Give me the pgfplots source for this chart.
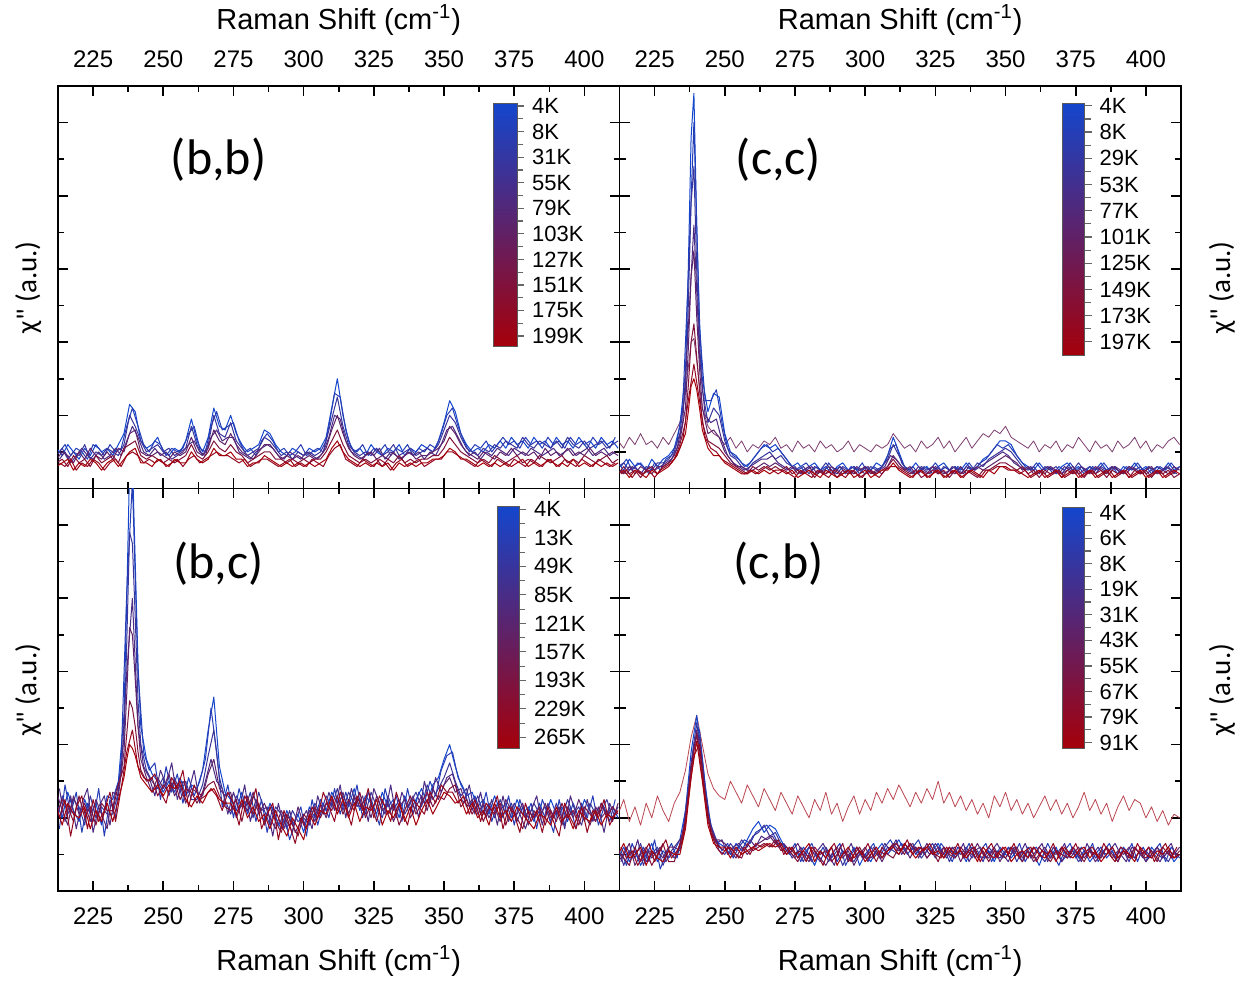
\documentclass[border=0pt]{standalone}
\usepackage{fontspec}
\setmainfont{Liberation Sans}
\newfontfamily\cali{Carlito}
\usepackage{pgfplots}
\usepackage{pgfplotstable}
\pgfplotsset{compat=1.18}
\usepgfplotslibrary{groupplots}
\usetikzlibrary{calc}
\definecolor{cA}{RGB}{20,70,205}
\definecolor{cE}{RGB}{165,0,10}
\colorlet{cP}{cA!88!cE}
\colorlet{cB}{cA!75!cE}
\colorlet{cQ}{cA!62!cE}
\colorlet{cC}{cA!50!cE}
\colorlet{cD}{cA!25!cE}
\colorlet{cR}{cA!12!cE}
\definecolor{cF}{RGB}{125,60,110}
\definecolor{cG}{RGB}{185,70,80}

\pgfplotstableread{
x a b c d e
212 11 9 8 7 6
214 9 11 10 8 7
216 12 8 9 6 8
218 10 10 7 9 5
220 8 9 10 7 7
222 11 12 8 8 6
224 9 8 11 6 8
226 12 10 9 9 7
228 10 9 8 7 5
230 11 11 10 8 7
232 9 10 8 9 8
234 12 9 11 7 6
236 15 12 10 11 8
238 23 20 15 12 10
240 21 17 16 13 11
242 13 13 10 9 7
244 11 10 9 8 7
246 12 11 9 9 6
248 14 12 10 8 8
250 10 10 9 7 7
252 9 11 8 8 6
254 11 9 10 7 8
256 10 10 9 8 7
258 13 11 10 9 7
260 19 17 14 12 10
262 13 12 10 9 8
264 10 9 9 8 7
266 14 12 11 10 8
268 22 20 16 13 11
270 17 15 13 11 9
272 16 14 12 10 9
274 20 18 15 12 10
276 15 13 12 10 8
278 12 11 10 9 8
280 10 9 9 7 6
282 11 10 8 8 7
284 12 11 10 9 7
286 16 14 12 10 9
288 15 13 12 10 8
290 12 11 10 8 7
292 10 9 8 8 6
294 9 10 9 7 7
296 11 8 8 8 6
298 10 10 9 7 7
300 9 9 8 8 6
302 11 10 9 7 7
304 10 9 8 8 6
306 11 10 9 8 7
308 14 13 11 10 8
310 22 19 16 13 11
312 30 25 20 16 13
314 20 17 15 12 10
316 13 12 11 9 8
318 10 10 9 8 7
320 11 9 8 7 6
322 9 10 9 8 7
324 12 9 10 7 6
326 10 11 8 8 7
328 9 9 9 6 6
330 11 10 8 8 7
332 10 12 10 7 5
334 12 9 8 9 7
336 9 10 9 7 6
338 11 11 10 8 7
340 10 9 8 7 6
342 12 10 9 8 7
344 11 11 9 8 7
346 10 10 10 9 8
348 13 12 11 9 8
350 18 16 13 11 9
352 24 20 17 14 11
354 21 18 15 12 10
356 15 14 12 10 8
358 12 11 10 9 8
360 10 10 9 8 7
362 11 9 8 7 6
364 10 11 10 8 7
366 12 10 9 7 6
368 11 12 8 9 7
370 13 11 10 8 6
372 11 13 9 7 7
374 14 12 11 8 6
376 12 11 9 9 7
378 13 14 10 7 8
380 11 12 9 8 6
382 14 11 10 7 7
384 12 13 8 9 6
386 13 12 11 8 7
388 11 11 9 7 8
390 14 13 10 8 6
392 12 11 9 9 7
394 13 14 11 7 6
396 11 12 9 8 8
398 14 11 10 7 6
400 12 13 9 9 7
402 13 11 11 8 6
404 11 12 9 7 7
406 14 13 10 8 6
408 12 11 9 9 7
410 13 12 10 7 6
412 11 13 9 8 7
}\tblTL

\pgfplotstableread{
x p q r
213 10 8 7
215 12 10 6
217 9 7 8
219 11 9 5
221 10 11 7
223 8 9 6
225 12 8 8
227 11 10 7
229 9 8 5
231 12 9 7
233 10 11 8
235 11 9 6
237 17 13 9
239 22 17 10
241 17 14 9
243 12 10 7
245 10 9 8
247 13 11 7
249 12 9 8
251 9 10 6
253 11 8 7
255 10 9 8
257 11 10 6
259 15 12 8
261 17 13 9
263 11 10 7
265 10 9 8
267 17 14 9
269 21 16 10
271 16 13 9
273 17 14 9
275 18 14 8
277 13 10 7
279 10 9 8
281 11 8 6
283 9 10 7
285 13 11 8
287 15 12 8
289 13 11 7
291 10 9 6
293 11 8 7
295 9 10 8
297 10 9 6
299 12 8 7
301 9 10 6
303 10 9 8
305 11 8 7
307 10 10 6
309 17 14 9
311 26 20 11
313 25 19 12
315 16 13 8
317 11 10 7
319 10 9 6
321 12 8 8
323 9 10 7
325 11 9 6
327 10 11 8
329 12 8 7
331 9 10 5
333 11 9 7
335 10 8 8
337 12 10 6
339 9 9 7
341 11 10 8
343 10 8 6
345 12 10 7
347 11 9 8
349 15 12 8
351 20 16 10
353 22 17 10
355 17 14 9
357 13 11 8
359 10 9 7
361 12 10 6
363 11 8 8
365 13 10 7
367 10 9 6
369 12 11 8
371 14 10 7
373 12 9 6
375 13 11 8
377 11 10 7
379 14 9 6
381 12 11 8
383 13 10 7
385 11 9 6
387 14 10 8
389 12 11 7
391 13 9 6
393 11 10 8
395 14 11 7
397 12 9 6
399 13 10 8
401 11 11 7
403 14 9 6
405 12 10 8
407 13 11 7
409 11 9 6
411 14 10 7
}\tblTLb

\pgfplotstableread{
x a b c d e f
212 7 6 5 4 4 13
214 5 7 4 6 5 11
216 8 5 6 4 3 14
218 6 6 4 5 5 12
220 7 4 6 3 4 15
222 5 6 5 5 3 12
224 8 5 4 6 5 13
226 6 7 6 4 4 11
228 8 7 6 6 5 14
230 9 8 7 7 6 12
232 11 10 9 8 8 15
234 17 15 13 12 11 18
236 32 27 22 18 15 26
237 60 50 38 28 21 33
238 96 78 58 40 28 40
239 108 88 65 45 30 41
240 72 60 47 36 27 35
241 46 40 33 27 22 28
242 30 27 22 18 16 22
244 21 18 15 13 11 17
246 26 22 16 12 9 15
248 25 20 14 11 9 14
250 15 13 10 9 7 12
252 10 9 8 7 6 14
254 9 8 6 6 5 11
256 7 6 6 5 4 13
258 6 5 5 4 4 10
260 8 7 5 6 5 12
262 10 8 6 5 4 11
264 12 9 7 6 5 13
266 11 10 6 5 4 12
268 12 8 7 6 5 14
270 10 9 6 5 5 11
272 8 7 5 6 4 12
274 6 6 6 4 5 10
276 7 5 4 5 3 13
278 5 6 5 4 4 11
280 6 4 6 5 5 12
282 7 6 4 3 4 10
284 5 5 5 5 3 13
286 6 7 4 4 5 11
288 4 5 6 5 4 12
290 6 4 5 3 3 10
292 7 6 4 5 4 11
294 5 5 5 4 5 13
296 6 6 4 5 3 10
298 4 5 5 3 4 12
300 6 4 6 4 5 11
302 5 6 4 5 3 10
304 7 5 5 4 4 12
306 6 6 4 5 5 11
308 9 8 6 6 5 12
310 14 12 9 8 7 15
312 10 9 7 6 5 13
314 6 6 5 5 4 11
316 5 5 6 4 3 12
318 7 4 4 5 4 10
320 5 6 5 3 5 13
322 6 5 4 4 3 11
324 4 6 6 5 4 12
326 6 4 5 4 5 14
328 7 6 4 5 3 11
330 5 5 5 3 4 13
332 6 6 4 5 5 10
334 5 4 6 4 3 12
336 7 6 4 5 4 14
338 5 5 5 4 5 11
340 6 7 6 3 4 13
342 8 6 5 5 3 15
344 9 8 6 5 5 14
346 11 9 7 6 4 16
348 13 10 8 7 6 15
350 13 11 9 7 6 17
352 12 10 8 6 5 14
354 9 8 7 5 5 13
356 7 6 5 6 4 12
358 6 5 6 4 3 11
360 5 6 4 5 4 13
362 7 4 5 3 5 10
364 5 6 4 5 3 12
366 6 5 6 4 4 11
368 4 6 5 5 5 13
370 6 4 4 3 3 10
372 7 6 5 5 4 12
374 5 5 6 4 5 11
376 6 7 4 5 3 14
378 4 5 5 3 4 12
380 6 6 4 5 5 10
382 5 4 6 4 3 13
384 7 6 5 5 4 11
386 5 5 4 3 5 12
388 6 6 6 5 3 10
390 4 5 5 4 4 13
392 6 4 4 5 5 11
394 5 6 6 3 3 12
396 7 5 5 5 4 14
398 5 6 4 4 5 11
400 6 4 5 5 3 13
402 4 5 6 3 4 10
404 6 6 4 5 5 12
406 5 5 5 4 3 11
408 7 6 4 5 4 13
410 5 4 6 3 5 14
412 6 6 5 4 4 12
}\tblTR

\pgfplotstableread{
x p q r
213 6 5 4
215 8 4 5
217 5 6 3
219 7 5 5
221 6 4 4
223 4 6 5
225 7 5 3
227 5 6 5
229 8 7 6
231 9 8 7
233 13 11 9
235 22 18 13
237 58 44 24
239 100 72 34
241 44 36 24
243 24 20 14
245 24 18 11
247 27 19 10
249 18 13 8
251 11 9 7
253 9 7 6
255 8 6 5
257 6 5 4
259 7 6 5
261 9 7 4
263 11 8 5
265 12 8 6
267 10 9 5
269 11 7 4
271 9 6 5
273 7 5 4
275 5 6 3
277 6 4 5
279 7 5 4
281 5 6 3
283 6 4 5
285 4 5 4
287 7 6 3
289 5 4 5
291 6 6 4
293 4 5 3
295 6 4 5
297 5 6 4
299 7 5 3
301 4 6 5
303 6 4 4
305 5 5 3
307 7 6 5
309 11 9 6
311 12 8 6
313 7 6 5
315 5 5 4
317 6 4 3
319 4 6 5
321 6 5 4
323 5 4 3
325 7 6 5
327 5 5 4
329 6 4 3
331 4 6 5
333 6 5 4
335 5 4 3
337 7 6 5
339 5 5 4
341 7 6 3
343 8 7 5
345 10 8 5
347 12 9 6
349 11 10 6
351 12 9 5
353 10 7 5
355 8 6 4
357 6 5 5
359 5 6 3
361 7 4 4
363 5 5 5
365 6 6 3
367 4 5 4
369 6 4 5
371 5 6 3
373 7 5 4
375 5 4 5
377 6 6 3
379 4 5 4
381 6 4 5
383 5 6 3
385 7 5 4
387 5 4 5
389 6 6 3
391 4 5 4
393 6 4 5
395 5 6 3
397 7 5 4
399 5 4 5
401 6 6 3
403 4 5 4
405 6 4 5
407 5 6 3
409 7 5 4
411 5 4 5
}\tblTRb

\pgfplotstableread{
x a b c d e
212 24 19 27 21 23
214 20 26 22 25 18
216 27 21 18 23 24
218 22 25 26 19 21
220 19 23 21 26 20
222 25 18 24 20 23
224 21 26 19 23 17
226 24 20 25 18 22
228 18 23 21 24 19
230 26 21 17 22 24
232 25 21 27 22 19
234 30 27 26 29 25
236 48 42 38 34 31
237 80 68 54 43 36
238 116 98 72 52 40
239 118 95 70 50 39
240 90 75 58 45 37
241 62 52 45 38 34
242 45 40 36 33 31
244 36 33 31 30 29
246 32 30 27 31 27
248 30 28 31 26 29
250 27 31 28 29 26
252 30 26 32 27 29
254 27 31 26 30 28
256 31 27 29 25 30
258 26 30 24 28 25
260 29 25 28 27 23
262 28 25 27 24 26
264 33 29 26 27 24
266 44 37 32 29 27
268 53 44 36 30 28
270 34 31 28 26 25
272 27 25 26 23 24
274 25 21 27 22 24
276 22 26 20 25 21
278 27 23 24 19 25
280 21 25 22 26 20
282 26 20 27 21 23
284 23 27 21 24 19
286 19 22 24 18 21
288 24 18 20 23 17
290 20 23 17 19 22
292 17 21 22 16 18
294 22 17 19 21 15
296 18 22 16 18 20
298 21 19 23 15 17
300 16 20 18 21 14
302 23 18 22 19 21
304 20 24 19 23 18
306 25 21 24 20 22
308 22 26 20 24 21
310 27 23 25 22 26
312 24 28 22 26 21
314 26 22 27 21 25
316 23 27 21 25 20
318 28 24 26 22 24
320 22 25 23 27 19
322 26 21 25 20 23
324 24 27 20 24 22
326 21 23 26 19 25
328 27 20 22 25 18
330 23 26 24 21 22
332 25 22 19 24 20
334 20 25 23 18 24
336 26 21 25 22 19
338 22 24 20 26 23
340 25 27 23 21 18
342 28 23 26 24 22
344 24 29 22 27 25
346 29 25 28 23 21
348 31 28 25 26 24
350 36 31 29 25 27
352 40 35 31 28 26
354 34 30 27 29 24
356 29 26 28 23 25
358 26 28 23 25 21
360 27 22 25 21 24
362 23 26 21 24 20
364 25 21 24 19 22
366 21 24 20 23 18
368 26 20 23 21 24
370 22 25 19 24 20
372 24 21 25 18 22
374 20 24 22 23 19
376 25 19 21 20 23
378 21 23 24 17 21
380 23 20 18 22 19
382 19 24 22 20 17
384 24 21 19 23 21
386 20 23 24 18 20
388 25 19 20 22 18
390 21 24 22 19 23
392 23 20 18 24 19
394 19 25 23 20 21
396 24 21 20 22 17
398 20 23 25 18 22
400 25 19 21 23 20
402 22 24 18 21 19
404 19 21 23 19 22
406 24 22 20 24 18
408 21 25 22 20 21
410 23 20 19 23 20
412 20 23 24 21 22
}\tblBL

\pgfplotstableread{
x p q r
213 17 28 20
215 29 19 25
217 21 26 15
219 27 17 23
221 16 24 26
223 24 28 17
225 19 16 25
227 28 23 19
229 15 26 22
231 25 18 27
233 20 27 19
235 36 32 28
237 82 60 38
239 112 80 44
241 60 45 34
243 38 34 31
245 33 31 30
247 35 26 32
249 25 33 27
251 34 29 24
253 27 35 31
255 32 25 28
257 24 30 33
259 31 27 23
261 26 33 29
263 30 24 25
265 36 30 26
267 50 36 28
269 38 30 26
271 23 28 22
273 29 21 27
275 20 27 24
277 28 22 18
279 22 29 26
281 27 19 23
283 19 25 28
285 25 22 17
287 16 23 21
289 23 15 24
291 18 24 14
293 21 17 22
295 14 22 18
297 19 16 13
299 23 19 20
301 15 22 17
303 25 17 23
305 18 26 20
307 24 21 27
309 20 27 23
311 28 22 19
313 21 29 27
315 27 20 23
317 22 28 18
319 29 23 26
321 20 26 22
323 27 19 28
325 23 28 20
327 18 24 26
329 28 21 23
331 22 29 19
333 26 20 27
335 19 27 22
337 28 23 18
339 21 26 25
341 27 20 23
343 24 30 21
345 30 24 27
347 26 31 24
349 33 27 29
351 37 31 27
353 38 32 27
355 31 27 24
357 28 24 26
359 23 29 21
361 26 21 25
363 21 27 19
365 27 20 24
367 19 25 22
369 24 18 26
371 20 26 17
373 26 19 23
375 18 24 21
377 25 21 16
379 20 17 24
381 24 22 19
383 17 26 22
385 25 18 16
387 21 24 23
389 16 20 19
391 25 23 15
393 18 17 24
395 23 26 20
397 17 21 17
399 24 18 23
401 20 25 16
403 26 19 22
405 18 23 20
407 23 16 25
409 19 24 18
411 25 20 21
}\tblBLb

\pgfplotstableread{
x a b c d e f
212 9 12 8 11 10 21
214 12 7 10 9 13 25
216 8 11 13 7 9 19
218 11 9 7 12 10 23
220 7 13 10 8 12 18
222 10 8 12 11 7 24
224 13 10 9 7 11 20
226 8 12 11 10 9 26
228 11 7 9 13 8 22
230 9 11 12 8 11 19
232 11 9 12 8 10 24
234 14 12 11 13 10 27
236 22 20 18 19 17 33
238 38 35 33 34 31 42
240 48 46 44 43 41 48
242 36 34 33 31 30 40
244 22 20 21 19 18 32
246 15 16 14 15 13 28
248 13 11 14 12 12 26
250 12 10 13 11 12 25
252 10 13 11 12 9 30
254 13 11 9 10 12 27
256 11 14 12 9 10 24
258 14 12 10 13 11 29
260 17 15 12 11 12 26
262 19 16 13 12 11 23
264 16 18 14 13 12 28
266 18 15 15 12 13 25
268 17 16 13 14 12 22
270 14 13 12 11 13 27
272 11 12 10 12 10 24
274 12 9 11 10 12 21
276 9 11 13 8 9 26
278 12 8 10 11 11 23
280 10 12 8 9 13 20
282 7 10 11 12 8 25
284 11 8 9 10 11 22
286 9 12 7 11 9 27
288 12 9 10 8 12 21
290 8 11 12 10 7 24
292 11 7 9 13 10 19
294 9 10 11 8 12 23
296 12 8 7 10 9 26
298 7 11 10 12 11 21
300 10 9 12 9 8 25
302 8 12 9 11 10 22
304 11 10 11 8 12 27
306 13 9 8 12 9 24
308 10 12 11 10 11 28
310 12 11 13 9 12 25
312 14 10 11 12 10 29
314 11 13 12 10 13 26
316 13 11 9 13 11 23
318 10 12 12 11 9 27
320 12 9 10 12 11 24
322 9 11 13 9 12 28
324 11 13 10 11 10 25
326 13 10 12 8 11 30
328 10 12 9 12 9 24
330 12 8 11 10 12 27
332 9 11 12 9 10 23
334 11 10 8 12 11 26
336 8 12 11 10 9 22
338 12 9 10 13 11 25
340 10 11 13 9 8 21
342 9 8 10 11 12 24
344 11 12 9 8 10 20
346 8 10 12 11 9 26
348 12 9 8 10 11 23
350 10 11 11 9 12 27
352 9 12 10 12 8 22
354 11 8 12 10 10 25
356 8 11 9 8 11 21
358 12 9 11 11 9 24
360 10 12 8 9 12 20
362 7 10 10 12 10 23
364 11 8 12 10 9 26
366 9 11 9 8 11 22
368 12 10 11 11 8 25
370 8 12 8 10 12 21
372 10 9 11 9 10 24
374 12 11 10 12 9 20
376 9 8 12 10 11 23
378 11 10 9 8 12 27
380 8 12 11 11 9 22
382 10 9 8 10 11 25
384 12 11 10 9 8 21
386 9 10 12 12 10 24
388 11 12 9 10 12 19
390 8 9 11 8 9 23
392 12 11 10 11 11 26
394 10 8 12 9 10 22
396 9 12 9 12 8 25
398 11 10 11 10 12 24
400 8 11 8 9 10 20
402 12 9 10 11 9 23
404 10 12 12 8 11 19
406 9 10 9 12 10 22
408 11 8 11 10 12 18
410 8 11 10 9 9 21
412 10 9 12 11 10 20
}\tblBR

\pgfplotstableread{
x p q r
213 11 8 12
215 7 12 9
217 13 9 11
219 9 14 7
221 12 7 10
223 8 11 13
225 14 10 8
227 6 12 11
229 10 8 14
231 13 11 9
233 9 13 11
235 16 15 14
237 28 27 25
239 40 39 37
241 44 42 40
243 29 27 26
245 18 16 16
247 14 13 12
249 11 14 10
251 13 10 12
253 9 12 11
255 12 13 9
257 14 11 12
259 13 14 10
261 16 12 13
263 17 15 12
265 18 14 13
267 16 15 12
269 13 12 14
271 12 13 10
273 10 11 12
275 13 9 10
277 8 12 11
279 11 10 8
281 13 8 12
283 9 11 10
285 12 13 7
287 8 10 11
289 11 7 13
291 13 12 9
293 7 10 11
295 10 13 8
297 12 9 12
299 9 11 10
301 11 8 13
303 13 12 9
305 9 10 11
307 12 13 10
309 14 11 12
311 11 14 13
313 13 10 11
315 10 12 14
317 12 13 10
319 14 9 12
321 10 12 11
323 12 10 13
325 9 13 10
327 13 11 9
329 11 9 12
331 8 12 10
333 12 10 13
335 10 13 9
337 13 8 11
339 9 11 12
341 11 12 8
343 13 9 11
345 8 11 13
347 11 13 9
349 9 10 12
351 12 8 10
353 10 12 13
355 13 10 9
357 8 13 11
359 11 9 12
361 12 11 8
363 9 13 11
365 13 8 10
367 10 12 13
369 7 10 9
371 11 13 12
373 13 9 10
375 9 11 13
377 12 8 9
379 10 13 11
381 13 10 12
383 8 12 9
385 11 9 13
387 13 11 10
389 9 13 8
391 12 10 12
393 10 8 11
395 13 12 9
397 8 11 13
399 12 9 10
401 9 12 12
403 11 10 8
405 13 8 11
407 8 11 13
409 12 13 9
411 10 9 12
}\tblBRb

\pgfplotsset{
  cbar/.style n args={4}{
    colorbar,
    point meta min=#1, point meta max=#2,
    colorbar style={
      at={(parent axis.north west)}, anchor=north west,
      xshift=#3, yshift=#4,
      scale only axis,
      width=11.5pt, height=121pt,
      ytick={0,...,9},
      ytick pos=right,
      yticklabel pos=right,
      tick align=outside,
      major tick length=3.5pt,
      every tick/.style={gray!80!black, line width=0.6pt},
      axis line style={gray!70!black, line width=0.4pt},
      yticklabel style={font=\normalfont\fontsize{11}{12}\selectfont, xshift=0.5pt},
      xtick=\empty,
    },
  },
  seven/.style n args={3}{},
}
\newcommand\curves[2]{%
  \addplot[cA] table[x=x,y=a]{#1};
  \addplot[cP] table[x=x,y=p]{#2};
  \addplot[cB] table[x=x,y=b]{#1};
  \addplot[cQ] table[x=x,y=q]{#2};
  \addplot[cC] table[x=x,y=c]{#1};
  \addplot[cD] table[x=x,y=d]{#1};
  \addplot[cR] table[x=x,y=r]{#2};
  \addplot[cE] table[x=x,y=e]{#1};
}

\begin{document}
\begin{tikzpicture}
\begin{groupplot}[
  group style={group size=2 by 2, horizontal sep=0pt, vertical sep=0pt, group name=G},
  width=280.75pt, height=201.25pt, scale only axis,
  xmin=212.5, xmax=412.5, ymin=0, ymax=110,
  xtick={225,250,...,400}, minor x tick num=1,
  ytick={0,20,...,100}, minor y tick num=1, yticklabels={},
  tick align=inside, tick pos=both,
  major tick length=5pt, minor tick length=3pt,
  every tick/.style={black, line width=0.8pt},
  axis line style={line width=0.9pt},
  /pgf/number format/assume math mode=true,
  tick label style={font=\fontsize{12}{14}\selectfont},
  xlabel near ticks,
  xlabel style={font=\fontsize{14.5}{17}\selectfont},
  ylabel style={font=\cali\fontsize{14.5}{16}\selectfont, anchor=center},
  colormap={br}{rgb255=(165,0,10) rgb255=(92,35,108) rgb255=(20,70,205)},
  every axis plot/.append style={line width=0.5pt, no markers, line join=round},
]
% ---- (b,b)
\nextgroupplot[xticklabel pos=right, xticklabel shift=5.5pt,
  xlabel={Raman Shift (cm\textsuperscript{-1})},
  xlabel style={yshift=1pt},
  ylabel={χ" (a.u.)}, ylabel style={at={(axis description cs:-0.053,0.5)}},
  cbar={-0.39}{9.12}{209pt}{-8.5pt},
  colorbar style={height=121.5pt, width=12pt,
    yticklabels={199K,175K,151K,127K,103K,79K,55K,31K,8K,4K}}]
\curves{\tblTL}{\tblTLb}
\node[font=\cali\fontsize{25}{30}\selectfont] at (rel axis cs:0.286,0.816) {(b,b)};
% ---- (c,c)
\nextgroupplot[xticklabel pos=right, xticklabel shift=5.5pt,
  xlabel={Raman Shift (cm\textsuperscript{-1})},
  xlabel style={yshift=1pt},
  ylabel={χ" (a.u.)}, ylabel style={at={(axis description cs:1.073,0.5)}},
  cbar={-0.5}{9.11}{213pt}{-8.5pt},
  colorbar style={height=126pt, width=11pt,
    yticklabels={197K,173K,149K,125K,101K,77K,53K,29K,8K,4K}}]
\addplot[cF, line width=0.4pt] table[x=x,y=f]{\tblTR};
\curves{\tblTR}{\tblTRb}
\node[font=\cali\fontsize{25}{30}\selectfont] at (rel axis cs:0.283,0.816) {(c,c)};
% ---- (b,c)
\nextgroupplot[xticklabel shift=5pt,
  xlabel={Raman Shift (cm\textsuperscript{-1})},
  xlabel style={yshift=-3.5pt},
  ylabel={χ" (a.u.)}, ylabel style={at={(axis description cs:-0.053,0.5)}},
  cbar={-0.39}{8.1}{211pt}{-9pt},
  colorbar style={height=121pt, width=11pt, ytick={0,...,8},
    yticklabels={265K,229K,193K,157K,121K,85K,49K,13K,4K}}]
\curves{\tblBL}{\tblBLb}
\node[font=\cali\fontsize{25}{30}\selectfont] at (rel axis cs:0.286,0.814) {(b,c)};
% ---- (c,b)
\nextgroupplot[xticklabel shift=5pt,
  xlabel={Raman Shift (cm\textsuperscript{-1})},
  xlabel style={yshift=-3.5pt},
  ylabel={χ" (a.u.)}, ylabel style={at={(axis description cs:1.073,0.5)}},
  cbar={-0.23}{9.2}{213pt}{-9.5pt},
  colorbar style={height=120.5pt, width=11pt,
    yticklabels={91K,79K,67K,55K,43K,31K,19K,8K,6K,4K}}]
\addplot[cG, line width=0.4pt] table[x=x,y=f]{\tblBR};
\curves{\tblBR}{\tblBRb}
\node[font=\cali\fontsize{25}{30}\selectfont] at (rel axis cs:0.283,0.814) {(c,b)};
\end{groupplot}
\pgfresetboundingbox
\path ($(G c1r1.north west)+(-29pt,43pt)$) rectangle ($(G c2r2.south east)+(33pt,-46.5pt)$);
\end{tikzpicture}
\end{document}
